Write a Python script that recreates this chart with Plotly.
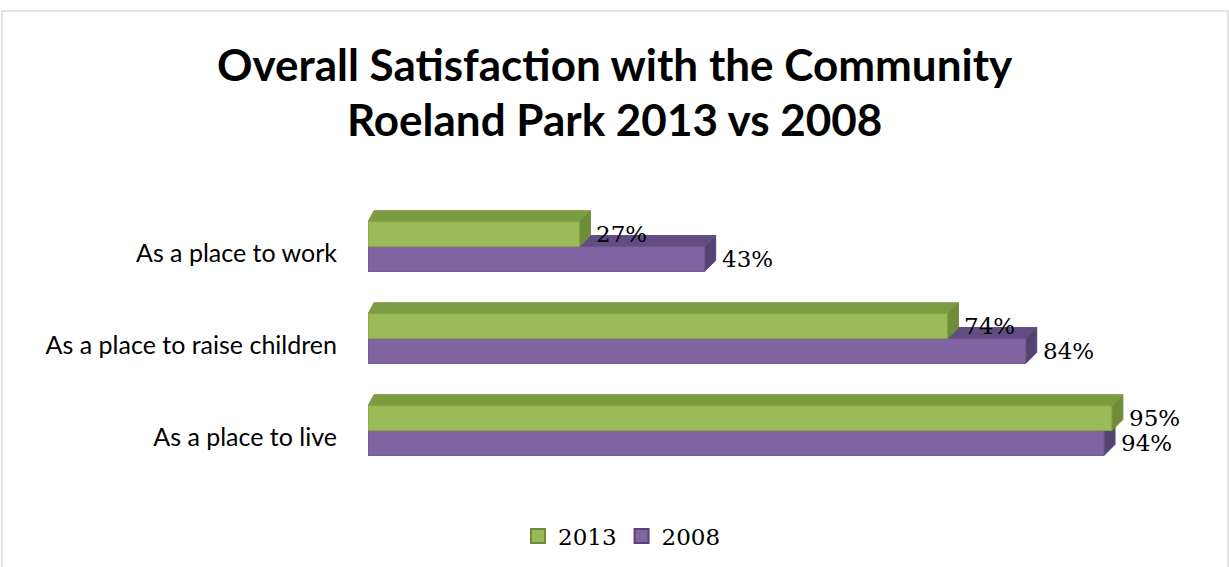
import plotly.graph_objects as go

categories = ["As a place to live", "As a place to raise children", "As a place to work"]
v2013 = [95, 74, 27]
v2008 = [94, 84, 43]
series_names = ["2013", "2008"]
title_lines = ["Overall Satisfaction with the Community", "Roeland Park 2013 vs 2008"]

W, H = 1229, 567
ML, MR, MT, MB = 368, 78, 207, 84
pw = W - ML - MR
ph = H - MT - MB
xpx = 100.0 / pw            # data units per pixel (x)
ypx = 3.0 / ph              # data units per pixel (y)

DXR = 11 * xpx
DXL = 6 * xpx
DY = 11 * ypx
BH = 0.27

styles = {
    "2013": dict(front="#9BBB59", top="#7C9C42", side="#6F8C38", edge="#86A34A", lo=0.07),
    "2008": dict(front="#8064A2", top="#634C82", side="#574372", edge="#6E5690", lo=0.07 - BH),
}

fig = go.Figure()

def faces(vals, lo):
    side_x, side_y, top_x, top_y, fr_x, fr_y = [], [], [], [], [], []
    for i, v in enumerate(vals):
        y0 = i + lo
        y1 = y0 + BH
        side_x += [v, v, v + DXR, v + DXR, v, None]
        side_y += [y0, y1, y1 + DY, y0 + DY, y0, None]
        top_x += [0, v, v + DXR, DXL, 0, None]
        top_y += [y1, y1, y1 + DY, y1 + DY, y1, None]
        fr_x += [0, v, v, 0, 0, None]
        fr_y += [y0, y0, y1, y1, y0, None]
    return (side_x, side_y), (top_x, top_y), (fr_x, fr_y)

for name, vals in [("2008", v2008), ("2013", v2013)]:
    st = styles[name]
    (sx, sy), (tx, ty), (fx, fy) = faces(vals, st["lo"])
    for (xx, yy, col) in [(sx, sy, st["side"]), (tx, ty, st["top"]), (fx, fy, st["front"])]:
        fig.add_trace(go.Scatter(x=xx, y=yy, fill="toself", mode="lines",
                                 fillcolor=col, line=dict(color=st["edge"] if col == st["front"] else col, width=1),
                                 hoverinfo="skip", showlegend=False))
    for i, v in enumerate(vals):
        fig.add_annotation(x=v + DXR, y=i + st["lo"] + BH / 2, text=f"{v}%", showarrow=False,
                           xanchor="left", yanchor="middle", xshift=4,
                           font=dict(family="DejaVu Serif", size=23, color="#000000"))

for name in series_names:
    st = styles[name]
    fig.add_trace(go.Scatter(x=[None], y=[None], mode="markers", name=name,
                             marker=dict(symbol="square", size=14, color=st["front"],
                                         line=dict(color=st["side"], width=2))))

for k, line in enumerate(title_lines):
    py = [64, 119][k]
    fig.add_annotation(xref="paper", yref="paper", x=(W / 2 - ML) / pw, y=(H - MB - py) / ph,
                       text=f"<b>{line}</b>", showarrow=False, xanchor="center", yanchor="middle",
                       font=dict(family="Lato", size=44, color="#000000"))

fig.add_shape(type="rect", xref="paper", yref="paper",
              x0=(2 - ML) / pw, x1=(1228 - ML) / pw, y0=-0.6, y1=(H - MB - 11) / ph,
              line=dict(color="#D9D9D9", width=1.5), fillcolor="rgba(0,0,0,0)", layer="below")

fig.update_layout(
    width=W, height=H,
    margin=dict(l=ML, r=MR, t=MT, b=MB, pad=0, autoexpand=False),
    paper_bgcolor="white", plot_bgcolor="white",
    xaxis=dict(range=[0, 100], visible=False, fixedrange=True),
    yaxis=dict(range=[-0.5, 2.5], tickvals=[0, 1, 2], ticktext=categories,
               showgrid=False, zeroline=False, showline=False, ticks="",
               ticklabelstandoff=30, fixedrange=True, automargin=False,
               tickfont=dict(family="Lato", size=25, color="#000000")),
    legend=dict(orientation="h", x=(622 - ML) / pw, y=(H - MB - 536) / ph,
                xanchor="center", yanchor="middle",
                font=dict(family="DejaVu Serif", size=23, color="#000000"),
                itemwidth=30, tracegroupgap=0),
    showlegend=True,
)

fig.write_html("out.html", config={"displayModeBar": False},
               post_script="document.body.style.margin='0';document.body.style.overflow='hidden';")
